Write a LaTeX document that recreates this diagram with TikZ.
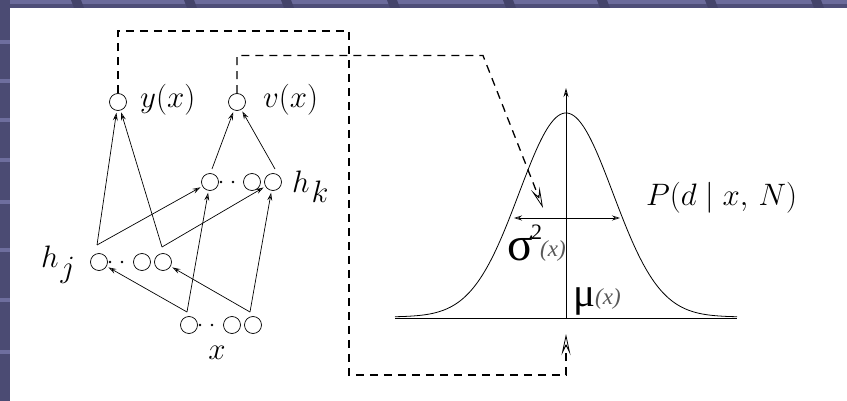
\RequirePackage{fix-cm}
\documentclass[tikz,border=0pt]{standalone}
\usepackage{fontspec}
\newfontfamily\greekfont{Liberation Serif}
\usetikzlibrary{arrows.meta}
\definecolor{bandA}{HTML}{6B6B9B}
\definecolor{bandB}{HTML}{4E4E78}
\definecolor{bandGap}{HTML}{44446A}
\definecolor{bandL}{HTML}{4B4B73}
\definecolor{bandMark}{HTML}{6E6E9E}
\begin{document}
\begin{tikzpicture}[x=1pt,y=-1pt,
  neuron/.style={circle,draw,inner sep=0pt,minimum size=17pt,line width=0.7pt},
  conn/.style={line width=0.7pt,-{Stealth[open,length=8pt,width=5pt,inset=3pt]},shorten >=2pt},
  dashconn/.style={line width=1.3pt,dash pattern=on 8pt off 6pt},
  bigtip/.style={-{Stealth[open,length=21pt,width=9pt,inset=9pt,line width=0.8pt]}},
  lbl/.style={inner sep=0pt,font=\fontsize{31}{34}\selectfont},
  smallx/.style={inner sep=0pt,text=black!65,font=\greekfont\itshape\fontsize{23}{25}\selectfont}]
\useasboundingbox (0,0) rectangle (847,401);
\fill[white] (0,0) rectangle (847,401);
% slide border
\fill[bandB] (0,0) rectangle (847,8);
\fill[bandA] (0,0) rectangle (847,4);
\foreach \g in {77,190,287,393,509,603,711,817}
  \fill[bandGap] (\g-6,0) -- (\g+4,0) -- (\g+7,8) -- (\g-3,8) -- cycle;
\fill[bandL] (0,0) rectangle (10,401);
\foreach \g in {42,81,120,160,202,250,300,352}
  \fill[bandMark] (0,\g-2) rectangle (10,\g+2);

% neurons
\node[neuron] (y) at (118,102) {};
\node[neuron] (v) at (237,102) {};
\node[neuron] (k1) at (210,182) {};
\node[neuron] (k2) at (252,182) {};
\node[neuron] (k3) at (273,182) {};
\node[neuron] (j1) at (99,262) {};
\node[neuron] (j2) at (142,262) {};
\node[neuron] (j3) at (163,262) {};
\node[neuron] (i1) at (189,325) {};
\node[neuron] (i2) at (232,325) {};
\node[neuron] (i3) at (253,325) {};
\foreach \px/\py in {221/182,233/182,110/262,122/262,200/325,212/325}
  \fill (\px,\py) circle (1.3pt);

% connector start points
\coordinate (j1t) at (97,245);
\coordinate (j3t) at (162,247);
\coordinate (i1t) at (187,312);
\coordinate (i3t) at (250,312);
\coordinate (k1t) at (212,169);
\coordinate (k3t) at (275,169);

\draw[conn] (j1t) -- (y);
\draw[conn] (j1t) -- (k1);
\draw[conn] (j3t) -- (y);
\draw[conn] (j3t) -- (k3);
\draw[conn] (i1t) -- (j1);
\draw[conn] (i1t) -- (k1);
\draw[conn] (i3t) -- (j3);
\draw[conn] (i3t) -- (k3);
\draw[conn] (k1t) -- (v);
\draw[conn] (k3t) -- (v);

% labels of network
\node[lbl,anchor=west] (ly) at (140,100) {$y(x)$};
\node[lbl,anchor=west] (lv) at (263,100) {$v(x)$};
\node[lbl,anchor=base west] (lhk) at (292,193) {$h$\kern2pt\raisebox{-10pt}{$k$}};
\node[lbl,anchor=base west] (lhj) at (41,267) {$h$\kern2pt\raisebox{-10pt}{$j$}};
\node[lbl] (lx) at (217,353) {$x$};

% gaussian
\coordinate (bl) at (395,318);
\coordinate (br) at (737,318);
\coordinate (base) at (566,318);
\coordinate (axtop) at (566,88);
\draw[line width=0.8pt] (bl) -- (br);
\draw[line width=0.8pt,-{Stealth[open,length=9pt,width=5pt]}] (base) -- (axtop);
\draw[line width=0.8pt,domain=395:737,samples=150,smooth]
  plot (\x,{317-204*exp(-((\x-566)/47)^2/2)});
\coordinate (wl) at (514,218);
\coordinate (wr) at (620,218);
\draw[line width=0.7pt,{Stealth[open,length=8pt,width=5pt]}-{Stealth[open,length=8pt,width=5pt]}] (wl) -- (wr);

\node[inner sep=0pt,anchor=base west,font=\greekfont\fontsize{48}{50}\selectfont] (sig) at (507,260) {σ};
\node[inner sep=0pt,anchor=base west,font=\greekfont\fontsize{22}{24}\selectfont] (sig2) at (531,240) {2};
\node[smallx,anchor=base west] (sigx) at (540,256) {(x)};
\node[inner sep=0pt,anchor=base west,font=\greekfont\fontsize{41}{43}\selectfont] (mu) at (573,306) {μ};
\node[smallx,anchor=base west] (mux) at (595,305) {(x)};
\node[lbl,anchor=west] (lp) at (646,198) {$P(d\mid x,\,N)$};

% dashed feedback paths
\draw[dashconn,bigtip] (y.north) -- (118,31) -- (349,31) -- (349,375) -- (566,375) -- (566,334);
\draw[dashconn,bigtip] (v.north) -- (237,55.5) -- (483,55.5) -- (543,208);
\end{tikzpicture}
\end{document}
